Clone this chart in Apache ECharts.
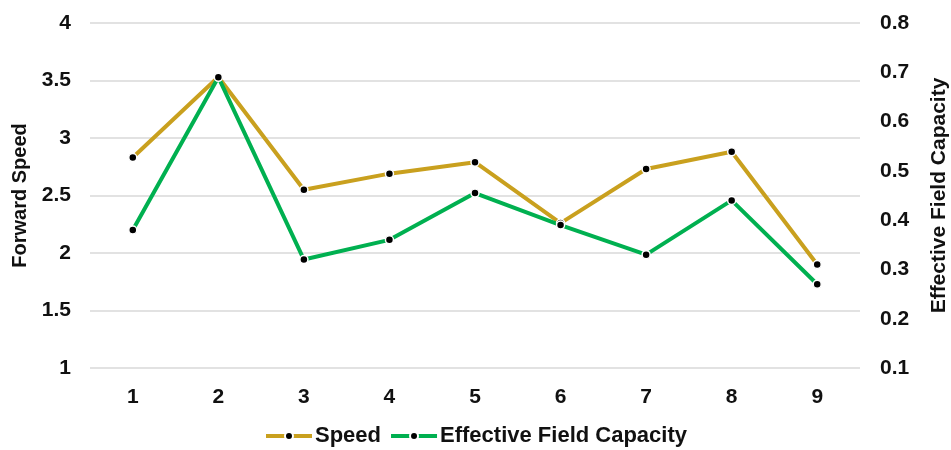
<!DOCTYPE html>
<html><head><meta charset="utf-8">
<script src="https://cdn.jsdelivr.net/npm/echarts@6/dist/echarts.min.js"></script>
<style>html,body{margin:0;padding:0;background:#fff}#c{width:951px;height:450px}</style>
</head><body><div id="c"></div>
<script>
const categories = ['1','2','3','4','5','6','7','8','9'];
const speed = [2.83, 3.53, 2.55, 2.69, 2.79, 2.26, 2.73, 2.88, 1.90];
const efc = [0.38, 0.69, 0.32, 0.36, 0.455, 0.39, 0.33, 0.44, 0.27];
const speedName = 'Speed';
const efcName = 'Effective Field Capacity';

const font = 'Liberation Sans, Arial, sans-serif';
const chart = echarts.init(document.getElementById('c'));
const markerStyle = {color:'#000', borderColor:'#fff', borderWidth:1.5};
chart.setOption({
  animation:false,
  grid:{left:90,right:91,top:23,bottom:82,containLabel:false,outerBoundsMode:'none'},
  legend:{
    bottom:-2, left:'center', itemWidth:46, itemHeight:10, itemGap:8,
    lineStyle:{width:4},
    textStyle:{fontFamily:font,fontWeight:'bold',fontSize:22,color:'#111',padding:[0,0,0,-2]},
    data:[speedName, efcName]
  },
  xAxis:{
    type:'category', data:categories, boundaryGap:true,
    axisLine:{show:false}, axisTick:{show:false},
    axisLabel:{fontFamily:font,fontWeight:'bold',fontSize:21,color:'#111',margin:19}
  },
  yAxis:[
    {type:'value', min:1, max:4, interval:0.5, name:'Forward Speed',
     nameLocation:'middle', nameGap:58, nameRotate:90,
     nameTextStyle:{fontFamily:font,fontWeight:'bold',fontSize:20,color:'#111'},
     axisLine:{show:false}, axisTick:{show:false},
     axisLabel:{fontFamily:font,fontWeight:'bold',fontSize:21,color:'#111',margin:19},
     splitLine:{lineStyle:{color:'#d9d9d9',width:1.5}}},
    {type:'value', min:0.1, max:0.8, interval:0.1, name:'Effective Field Capacity',
     nameLocation:'middle', nameGap:69, nameRotate:90,
     nameTextStyle:{fontFamily:font,fontWeight:'bold',fontSize:21,color:'#111'},
     axisLine:{show:false}, axisTick:{show:false},
     axisLabel:{fontFamily:font,fontWeight:'bold',fontSize:21,color:'#111',margin:20,
       formatter:v=>v.toFixed(1)},
     splitLine:{show:false}}
  ],
  series:[
    {name:speedName, type:'line', yAxisIndex:0, data:speed,
     lineStyle:{color:'#C9A01E',width:4}, itemStyle:markerStyle,
     symbol:'circle', symbolSize:8, color:'#C9A01E'},
    {name:efcName, type:'line', yAxisIndex:1, data:efc,
     lineStyle:{color:'#00B050',width:4}, itemStyle:markerStyle,
     symbol:'circle', symbolSize:8, color:'#00B050'}
  ]
});
</script></body></html>
